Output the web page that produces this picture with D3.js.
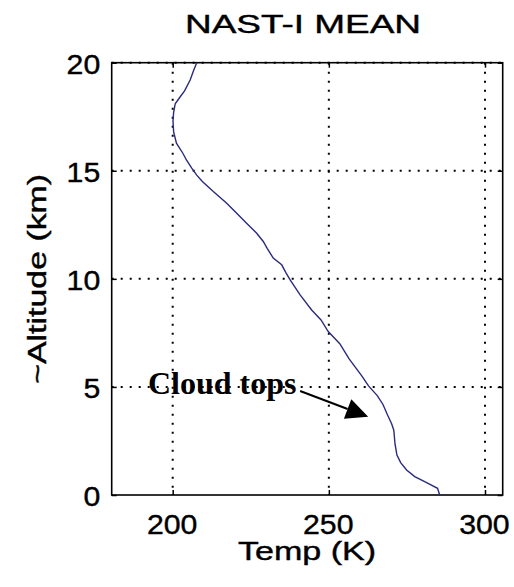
<!DOCTYPE html>
<html><head><meta charset="utf-8">
<script src="https://cdn.jsdelivr.net/npm/d3@7"></script>
<style>html,body{margin:0;padding:0;background:#fff;}svg{display:block;}</style>
</head><body><svg id="c" width="514" height="587"></svg>
<script>
const altitude = [0,0.31,0.6,0.85,1.16,1.5,1.85,2.35,3.0,3.3,3.7,4.2,4.6,5.05,5.5,6.3,7.0,7.56,8.1,8.56,9.26,9.95,10.3,10.65,10.96,11.4,11.73,12.11,12.6,13.04,13.5,14.04,14.5,14.8,15.12,15.5,15.8,16.28,16.8,17.3,17.7,18.1,18.4,18.7,19.2,19.6,20];
const temperature = [285.5,284.8,281,277.5,274.9,273,271.8,271.2,270.8,270.1,268.8,267.3,265.5,262.7,260.6,256.5,253.5,249.8,247.5,244.5,240.8,237.6,236.2,234.9,232.2,230.3,229,226.9,223.5,220.5,217.3,213.0,209.5,207.7,206.1,204.4,203.3,201.2,200.3,200.1,200.3,200.8,202.3,203.8,205.6,206.6,207.7];
const xTicks = [200,250,300];
const yTicks = [0,5,10,15,20];
const title = "NAST-I MEAN";
const xLabel = "Temp (K)";
const yLabel = "~Altitude (km)";
const annotation = {text:"Cloud tops", from:[240.8,4.81], to:[262.6,3.62]};

(function(){
const svg = d3.select("#c");
const L=111.7, T=62.7, R=502.7, B=495;
const x = d3.scaleLinear().domain([180.47,305.67]).range([L,R]);
const y = d3.scaleLinear().domain([0,20]).range([B,T]);
const sans = "'Liberation Sans', Arial, sans-serif";
const SX = 1.08;

// grid
const g = svg.append("g");
xTicks.forEach(v=>g.append("line").attr("x1",x(v)).attr("x2",x(v)).attr("y1",T).attr("y2",B)
  .attr("stroke","#000").attr("stroke-width",2).attr("stroke-dasharray","2,7"));
yTicks.filter(v=>v>0).forEach(v=>g.append("line").attr("x1",L).attr("x2",R).attr("y1",y(v)).attr("y2",y(v))
  .attr("stroke","#000").attr("stroke-width",2).attr("stroke-dasharray","2,7"));

// axes with inward ticks
const ax = svg.append("g");
const axB = ax.append("g").attr("transform",`translate(0,${B})`).call(d3.axisBottom(x).tickValues(xTicks).tickSize(-5).tickPadding(0).tickSizeOuter(0));
const axL = ax.append("g").attr("transform",`translate(${L},0)`).call(d3.axisLeft(y).tickValues(yTicks).tickSize(-5).tickPadding(0).tickSizeOuter(0));
const axT = ax.append("g").attr("transform",`translate(0,${T})`).call(d3.axisTop(x).tickValues(xTicks).tickSize(-5).tickFormat("").tickSizeOuter(0));
const axR = ax.append("g").attr("transform",`translate(${R},0)`).call(d3.axisRight(y).tickValues(yTicks).tickSize(-5).tickFormat("").tickSizeOuter(0));
[axB,axL,axT,axR].forEach(a=>{a.select(".domain").remove();a.selectAll("line").attr("stroke","#000").attr("stroke-width",1.5);});
[axB,axL].forEach(a=>a.selectAll("text").attr("font-family",sans).attr("font-size",28).attr("fill","#000")
  .attr("stroke","#000").attr("stroke-width",0.4));
axB.selectAll("text").attr("x",-1).attr("y",39.5).attr("dy",null).attr("transform",`scale(${SX},1)`);
axL.selectAll("text").attr("x",-11.5/SX).attr("y",10.5).attr("dy",null).attr("transform",`scale(${SX},1)`);

svg.append("rect").attr("x",L).attr("y",T).attr("width",R-L).attr("height",B-T)
  .attr("fill","none").attr("stroke","#000").attr("stroke-width",1.6);

// line
const pts = altitude.map((a,i)=>[temperature[i],a]);
svg.append("path").datum(pts)
  .attr("d",d3.line().x(d=>x(d[0])).y(d=>y(d[1])).curve(d3.curveLinear))
  .attr("fill","none").attr("stroke","#2b2b7c").attr("stroke-width",1.4);

// title & labels
const lab = (sel)=>sel.attr("font-family",sans).attr("text-anchor","middle").attr("fill","#000")
  .attr("stroke","#000").attr("stroke-width",0.4).attr("lengthAdjust","spacingAndGlyphs");
lab(svg.append("text")).attr("x",303).attr("y",33).attr("font-size",26).attr("textLength",236).text(title);
lab(svg.append("text")).attr("x",307).attr("y",560).attr("font-size",25).attr("textLength",138).text(xLabel);
lab(svg.append("text")).attr("transform",`translate(46,${(T+B)/2}) rotate(-90)`).attr("font-size",25).attr("textLength",210).text(yLabel);

// annotation
svg.append("text").attr("x",148).attr("y",394).attr("font-family","'Liberation Serif','Times New Roman',serif")
  .attr("font-weight","bold").attr("font-size",32).attr("fill","#000").text(annotation.text);
const x0=x(annotation.from[0]), y0=y(annotation.from[1]), x1=x(annotation.to[0]), y1=y(annotation.to[1]);
const ang=Math.atan2(y1-y0,x1-x0), hl=22, hw=10.5;
const bx=x1-hl*Math.cos(ang), by=y1-hl*Math.sin(ang);
svg.append("line").attr("x1",x0).attr("y1",y0).attr("x2",bx).attr("y2",by).attr("stroke","#000").attr("stroke-width",2);
svg.append("polygon").attr("points",[[x1,y1],[bx+hw*Math.sin(ang),by-hw*Math.cos(ang)],[bx-hw*Math.sin(ang),by+hw*Math.cos(ang)]].map(p=>p.join(",")).join(" "))
  .attr("fill","#000");
})();
</script></body></html>
